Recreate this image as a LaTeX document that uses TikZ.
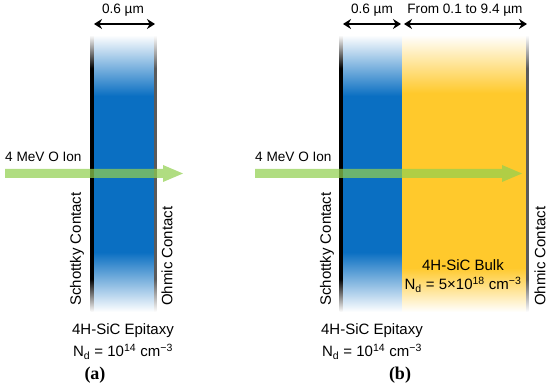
\documentclass[tikz,border=0pt]{standalone}
\usepackage{fontspec}
\setmainfont{Liberation Sans}
\newfontfamily\panelfont{Liberation Serif}
\usetikzlibrary{arrows.meta}
\definecolor{epiblue}{HTML}{0A6FC2}
\definecolor{bulkyellow}{HTML}{FFC92C}
\definecolor{ohmicgray}{HTML}{5A5A5A}
\definecolor{iongreen}{HTML}{92D050}
% vertical fades of the layers and contacts
\pgfdeclareverticalshading{epifade}{100bp}{color(0bp)=(white); color(25bp)=(white); color(35.8bp)=(epiblue); color(64bp)=(epiblue); color(75bp)=(white); color(100bp)=(white)}
\pgfdeclareverticalshading{bulkfade}{100bp}{color(0bp)=(white); color(25bp)=(white); color(33bp)=(bulkyellow); color(64.5bp)=(bulkyellow); color(75bp)=(white); color(100bp)=(white)}
\pgfdeclareverticalshading{schottkyfade}{100bp}{color(0bp)=(white); color(25bp)=(white); color(31bp)=(black); color(69bp)=(black); color(75bp)=(white); color(100bp)=(white)}
\pgfdeclareverticalshading{ohmicfade}{100bp}{color(0bp)=(white); color(25bp)=(white); color(31bp)=(ohmicgray); color(69bp)=(ohmicgray); color(75bp)=(white); color(100bp)=(white)}
\newcommand{\Nd}{N\textsubscript{d}}

\begin{document}
\begin{tikzpicture}[x=1pt,y=-1pt,
    txt/.style={inner sep=0pt,font=\fontsize{15}{17}\selectfont},
    small/.style={inner sep=0pt,font=\fontsize{13.6}{16}\selectfont},
    contact/.style={txt,rotate=90,anchor=west},
    panel/.style={inner sep=0pt,font=\fontsize{18}{20}\selectfont\panelfont\bfseries},
    dim/.style={line width=1.8pt,{Stealth[length=8pt,width=10pt]}-{Stealth[length=8pt,width=10pt]}},
    ion/.style={fill=iongreen,fill opacity=0.72}]
  \useasboundingbox (0,0) rectangle (550,390);

  % (a) epitaxy only
  \shade[shading=epifade] (93.5,35) rectangle (154,312);
  \shade[shading=schottkyfade] (90.5,35) rectangle (93.5,312);
  \shade[shading=ohmicfade] (154,35) rectangle (156.5,312);
  \coordinate (dimA1) at (94,24);
  \coordinate (dimA2) at (155,24);
  \draw[dim] (dimA1) -- (dimA2);
  \node[small] (widthA) at (123,10) {0.6 µm};
  \fill[ion] (5,169) -- (163,169) -- (163,165) -- (183,173.5) -- (163,182) -- (163,178) -- (5,178) -- cycle;
  \node[small,anchor=west] (ionA) at (5,157) {4 MeV O Ion};
  \node[contact] (schottkyA) at (77,306) {Schottky Contact};
  \node[contact] (ohmicA) at (167,306) {Ohmic Contact};
  \node[txt] (epiA) at (123,331) {4H-SiC Epitaxy};
  \node[txt] (dopeA) at (123,352) {\Nd{} = 10\textsuperscript{14} cm\textsuperscript{−3}};
  \node[panel] (capA) at (95,375) {(a)};

  % (b) epitaxy on bulk
  \shade[shading=epifade] (342.5,35) rectangle (402.5,312);
  \shade[shading=bulkfade] (402,35) rectangle (526,312);
  \shade[shading=schottkyfade] (339.5,35) rectangle (342.5,312);
  \shade[shading=ohmicfade] (526,35) rectangle (528.5,312);
  \coordinate (dimB1) at (343,24);
  \coordinate (dimB2) at (401,24);
  \coordinate (dimB3) at (404,24);
  \coordinate (dimB4) at (527,24);
  \draw[dim] (dimB1) -- (dimB2);
  \draw[dim] (dimB3) -- (dimB4);
  \node[small] (widthB) at (372,10) {0.6 µm};
  \node[small] (bulkwidthB) at (465,10) {From 0.1 to 9.4 µm};
  \fill[ion] (255,169) -- (502,169) -- (502,165) -- (522,173.5) -- (502,182) -- (502,178) -- (255,178) -- cycle;
  \node[small,anchor=west] (ionB) at (255,157) {4 MeV O Ion};
  \node[contact] (schottkyB) at (327,306) {Schottky Contact};
  \node[contact] (ohmicB) at (540,306) {Ohmic Contact};
  \node[txt] (bulkB) at (463,265) {4H-SiC Bulk};
  \node[txt] (bulkdopeB) at (463,285) {\Nd{} = 5×10\textsuperscript{18} cm\textsuperscript{−3}};
  \node[txt] (epiB) at (372,331) {4H-SiC Epitaxy};
  \node[txt] (dopeB) at (372,352) {\Nd{} = 10\textsuperscript{14} cm\textsuperscript{−3}};
  \node[panel] (capB) at (400,375) {(b)};
\end{tikzpicture}
\end{document}
